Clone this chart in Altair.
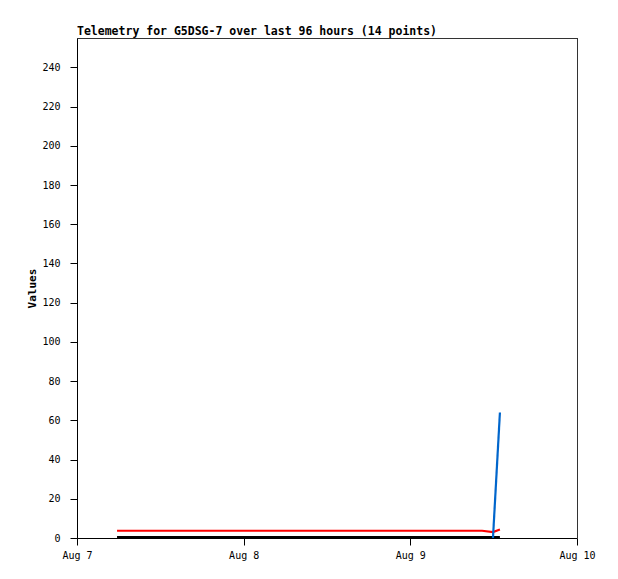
import altair as alt
import pandas as pd

times = [
    "2023-08-07T05:46:00", "2023-08-07T10:30:00", "2023-08-07T15:10:00",
    "2023-08-07T20:00:00", "2023-08-08T00:50:00", "2023-08-08T05:40:00",
    "2023-08-08T10:20:00", "2023-08-08T15:10:00", "2023-08-08T20:00:00",
    "2023-08-09T00:40:00", "2023-08-09T05:30:00", "2023-08-09T10:20:00",
    "2023-08-09T11:54:00", "2023-08-09T12:54:00",
]
red_vals = [3.7, 3.7, 3.7, 3.7, 3.7, 3.7, 3.7, 3.7, 3.7, 3.7, 3.7, 3.7, 3.0, 4.3]
black_vals = [0.5] * 14
blue_vals = [None] * 12 + [0, 64]

series_names = ["blue", "red", "black"]
series_colors = ["#0066cc", "#ff0000", "#000000"]
tick_days = [
    {"year": 2023, "month": 8, "date": d} for d in (7, 8, 9, 10)
]

df = pd.DataFrame({"time": times, "red": red_vals, "black": black_vals, "blue": blue_vals})
long = df.melt(id_vars="time", var_name="series", value_name="value").dropna()

font = "DejaVu Sans Mono"

x = alt.X(
    "time:T",
    scale=alt.Scale(domain=[tick_days[0], tick_days[-1]]),
    axis=alt.Axis(
        title=None, values=tick_days, format="%b %-d", grid=False,
        tickSize=7, labelPadding=5, labelFont=font, labelFontSize=10,
        labelColor="black", domainColor="black", tickColor="black",
        labelFlush=False,
    ),
)
y = alt.Y(
    "value:Q",
    scale=alt.Scale(domain=[0, 255], nice=False),
    axis=alt.Axis(
        title="Values", values=list(range(0, 241, 20)), grid=False,
        tickSize=7, labelPadding=10, labelFont=font, labelFontSize=10,
        labelColor="black", domainColor="black", tickColor="black",
        titleFont=font, titleFontSize=11, titleFontWeight="bold",
        titleColor="black", titleX=-45, titleY=250, titleAngle=270,
        titleBaseline="middle", titleAlign="center",
    ),
)

lines = (
    alt.Chart(long)
    .mark_line(strokeWidth=2.2, clip=True)
    .encode(
        x=x,
        y=y,
        color=alt.Color(
            "series:N",
            scale=alt.Scale(domain=series_names, range=series_colors),
            legend=None,
        ),
    )
)

top_rule = alt.Chart(long).mark_rule(color="#333333", strokeWidth=1).encode(
    x=alt.value(0), x2=alt.value(500.5), y=alt.value(0.5)
)
right_rule = alt.Chart(long).mark_rule(color="#333333", strokeWidth=1).encode(
    x=alt.value(500.5), y=alt.value(0), y2=alt.value(500)
)

chart = (
    alt.layer(lines, top_rule, right_rule)
    .properties(
        width=500,
        height=500,
        autosize=alt.AutoSizeParams(type="none"),
        padding={"left": 69, "top": 30, "right": 30, "bottom": 30},
        title=alt.TitleParams(
            "Telemetry for G5DSG-7 over last 96 hours (14 points)",
            anchor="start", frame="group", font=font, fontSize=11.5,
            fontWeight="bold", color="black", offset=0,
        ),
    )
    .configure_view(stroke=None)
    .configure(background="white")
)

chart.save("out.html", embed_options={"renderer": "svg", "actions": False})
